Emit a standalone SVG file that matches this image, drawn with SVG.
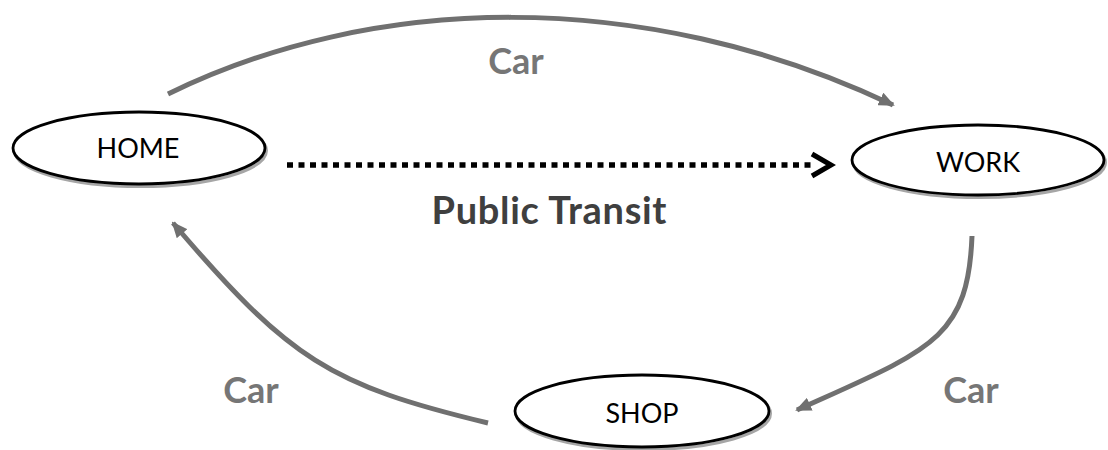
<svg xmlns="http://www.w3.org/2000/svg" width="1108" height="450" viewBox="0 0 1108 450">
  <style>
    .node-shadow { fill: none; stroke: #a6a6a6; stroke-width: 3; }
    .node-body { fill: #ffffff; stroke: #000000; stroke-width: 2.8; }
    .node-label { font-family: Lato, "Open Sans", sans-serif; font-size: 27px; fill: #000000; text-anchor: middle; }
    .car-route { fill: none; stroke: #707070; stroke-width: 5; }
    .transit-route { fill: none; stroke: #000000; stroke-width: 5.5; stroke-dasharray: 6 5.5; }
    .edge-label { font-family: Lato, "Open Sans", sans-serif; font-weight: bold; text-anchor: middle; }
    .car-label { font-size: 36px; fill: #767676; }
    .transit-label { font-size: 38px; fill: #3f3f3f; }
  </style>
  <defs>
    <marker id="grayHead" viewBox="0 0 16 14" refX="14" refY="7" markerWidth="16" markerHeight="14" markerUnits="userSpaceOnUse" orient="auto">
      <path d="M0,0 L16,7 L0,14 Z" fill="#707070"/>
    </marker>
  </defs>

  <!-- connectors -->
  <g id="connectors">
    <path class="car-route" d="M168,94 C370,-5 640,-15 893,105" marker-end="url(#grayHead)"/>
    <path class="car-route" d="M972,236 C968,340 930,350 797,410" marker-end="url(#grayHead)"/>
    <path class="car-route" d="M488,423 C330,385 290,360 173,223" marker-end="url(#grayHead)"/>
    <line class="transit-route" x1="287" y1="165" x2="812" y2="165"/>
    <polyline points="812,154 831,165 812,176" fill="none" stroke="#000000" stroke-width="5" stroke-linejoin="miter"/>
    <text class="edge-label car-label" x="516" y="74">Car</text>
    <text class="edge-label transit-label" x="549" y="224" textLength="235" lengthAdjust="spacing">Public Transit</text>
    <text class="edge-label car-label" x="251" y="403">Car</text>
    <text class="edge-label car-label" x="971" y="403">Car</text>
  </g>

  <!-- nodes -->
  <g id="home">
    <ellipse class="node-shadow" cx="140.5" cy="150.5" rx="126" ry="36"/>
    <ellipse class="node-body" cx="139" cy="148" rx="126" ry="36"/>
    <text class="node-label" x="138" y="158">HOME</text>
  </g>
  <g id="work">
    <ellipse class="node-shadow" cx="979.5" cy="162.5" rx="126" ry="35"/>
    <ellipse class="node-body" cx="978" cy="160" rx="126" ry="35"/>
    <text class="node-label" x="978" y="172">WORK</text>
  </g>
  <g id="shop">
    <ellipse class="node-shadow" cx="643.5" cy="413.5" rx="127" ry="36"/>
    <ellipse class="node-body" cx="642" cy="411" rx="127" ry="36"/>
    <text class="node-label" x="642" y="423">SHOP</text>
  </g>
</svg>
